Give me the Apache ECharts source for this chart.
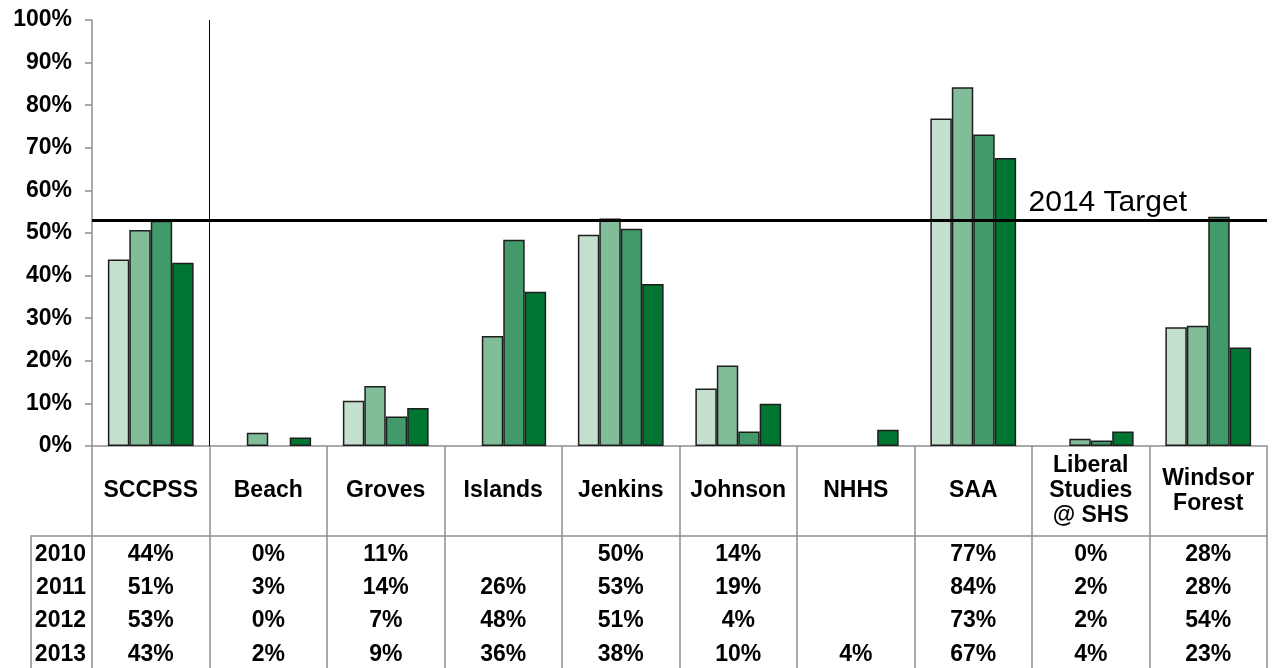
<!DOCTYPE html>
<html>
<head>
<meta charset="utf-8">
<title>SCCPSS 2010-2013</title>
<style>
body{margin:0;padding:0;background:#fff;}
#main{width:1273px;height:668px;}
</style>
</head>
<body>
<div id="main"></div>
<script src="https://cdn.jsdelivr.net/npm/echarts@6.0.0/dist/echarts.min.js"></script>
<script>
// categories and years
var schools = ['SCCPSS','Beach','Groves','Islands','Jenkins','Johnson','NHHS','SAA','Liberal\nStudies\n@ SHS','Windsor\nForest'];
var years = ['2010','2011','2012','2013'];

// bar heights (percent); null = no bar drawn (0% or blank)
var v2010 = [43.8, null, 10.6, null, 49.6, 13.5, null, 76.9, null, 27.9];
var v2011 = [50.7, 3.1, 14.1, 25.8, 53.4, 18.9, null, 84.2, 1.7, 28.2];
var v2012 = [52.9, null, 6.9, 48.4, 51.0, 3.4, null, 73.1, 1.3, 53.8];
var v2013 = [43.0, 2.0, 8.9, 36.2, 38.0, 9.9, 3.8, 67.6, 3.4, 23.1];

// table text under the chart
var t2010 = ['44%','0%','11%','','50%','14%','','77%','0%','28%'];
var t2011 = ['51%','3%','14%','26%','53%','19%','','84%','2%','28%'];
var t2012 = ['53%','0%','7%','48%','51%','4%','','73%','2%','54%'];
var t2013 = ['43%','2%','9%','36%','38%','10%','4%','67%','4%','23%'];

var target = 53;
var targetLabel = '2014 Target';
var dividerAt = 1; // line between SCCPSS and the schools

var colors = ['#c3dfcd','#80bd98','#42996a','#007632'];
var font = "Arial, 'Liberation Sans', sans-serif";
var gray = '#8f8f8f';

var gridLeft = 92, gridRight = 6, gridTop = 20, gridBottom = 222;
var H = 668;
var axisY = H - gridBottom;
var headerLine = 90;           // header row height below the axis
var rowOffsets = [109, 142, 175, 209];
var tableLeft = 31;

var myChart = echarts.init(document.getElementById('main'));

var values = [v2010, v2011, v2012, v2013];
var texts = [t2010, t2011, t2012, t2013];

var xAxes = [{
  type: 'category',
  data: schools,
  gridIndex: 0,
  axisLine: {lineStyle: {color: gray, width: 1.5}},
  axisTick: {show: true, interval: 0, length: gridBottom, lineStyle: {color: gray, width: 1.5}},
  axisLabel: {
    interval: 0, margin: 45, verticalAlign: 'middle', align: 'center',
    fontFamily: font, fontWeight: 'bold', fontSize: 23, lineHeight: 25, color: '#000'
  }
}];
for (var r = 0; r < years.length; r++) {
  (function(tx){
    xAxes.push({
      type: 'category',
      data: schools,
      gridIndex: 0,
      position: 'bottom',
      offset: rowOffsets[r],
      name: years[r],
      nameLocation: 'start',
      nameGap: 6,
      nameTextStyle: {fontFamily: font, fontWeight: 'bold', fontSize: 23, color: '#000'},
      axisLine: {show: false},
      axisTick: {show: false},
      splitLine: {show: false},
      axisLabel: {
        interval: 0, margin: 0, verticalAlign: 'middle',
        fontFamily: font, fontWeight: 'bold', fontSize: 23, color: '#000',
        formatter: function(v, i){ return tx[i]; }
      }
    });
  })(texts[r]);
}
// header bottom border
xAxes.push({
  type: 'category', data: schools, position: 'bottom', offset: headerLine,
  axisLine: {show: true, lineStyle: {color: gray, width: 1.5}},
  axisTick: {show: false}, axisLabel: {show: false}
});
// hidden value axis for the divider line
xAxes.push({type: 'value', min: 0, max: schools.length, show: false});

var series = [];
for (var s = 0; s < years.length; s++) {
  series.push({
    name: years[s],
    type: 'bar',
    data: values[s],
    barGap: '0%',
    barCategoryGap: '27%',
    itemStyle: {color: colors[s], borderColor: '#1e1e1e', borderWidth: 1.5},
    silent: true,
    animation: false
  });
}
series[3].markLine = {
  silent: true,
  symbol: 'none',
  animation: false,
  lineStyle: {color: '#000', width: 3, type: 'solid'},
  label: {
    show: true, position: 'insideEndTop', formatter: targetLabel,
    fontFamily: font, fontSize: 30, color: '#000', distance: [80, 2]
  },
  data: [{yAxis: target}]
};
series.push({
  type: 'line',
  xAxisIndex: xAxes.length - 1,
  data: [],
  silent: true,
  animation: false,
  markLine: {
    silent: true,
    symbol: 'none',
    animation: false,
    lineStyle: {color: '#000', width: 1, type: 'solid'},
    label: {show: false},
    data: [{xAxis: dividerAt}]
  }
});

var option = {
  animation: false,
  backgroundColor: '#fff',
  grid: {left: gridLeft, right: gridRight, top: gridTop, bottom: gridBottom, containLabel: false, outerBoundsMode: 'none'},
  xAxis: xAxes,
  yAxis: {
    type: 'value',
    min: 0, max: 100, interval: 10,
    axisLine: {show: true, lineStyle: {color: gray, width: 1.5}},
    axisTick: {show: true, length: 7, lineStyle: {color: gray, width: 1.5}},
    splitLine: {show: false},
    axisLabel: {
      margin: 20, formatter: '{value}%',
      fontFamily: font, fontWeight: 'bold', fontSize: 23, color: '#000'
    }
  },
  graphic: [{
    type: 'polyline',
    silent: true,
    shape: {points: [[tableLeft, H], [tableLeft, axisY + headerLine], [gridLeft, axisY + headerLine]]},
    style: {stroke: gray, lineWidth: 1.5, fill: null}
  }],
  series: series
};
myChart.setOption(option);
</script>
</body>
</html>
